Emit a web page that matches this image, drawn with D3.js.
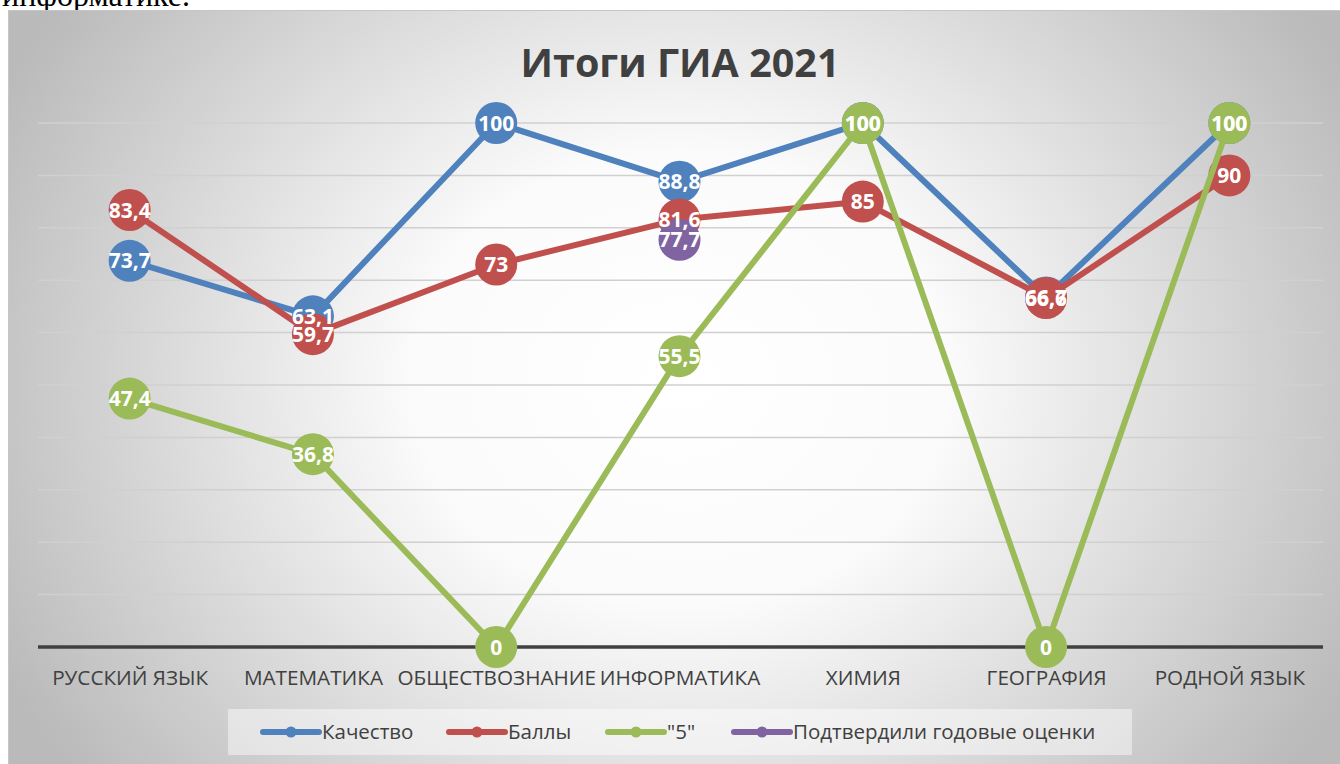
<!DOCTYPE html>
<html><head><meta charset="utf-8">
<script src="https://cdn.jsdelivr.net/npm/d3@7"></script>
<style>
html,body{margin:0;padding:0;background:#fff;}
svg{display:block;}
</style></head>
<body>
<svg id="c" width="1340" height="764"></svg>
<script>
const categories = ["РУССКИЙ ЯЗЫК","МАТЕМАТИКА","ОБЩЕСТВОЗНАНИЕ","ИНФОРМАТИКА","ХИМИЯ","ГЕОГРАФИЯ","РОДНОЙ ЯЗЫК"];
const kachestvo = [73.7, 63.1, 100, 88.8, 100, 66.7, 100];
const bally = [83.4, 59.7, 73, 81.6, 85, 66.6, 90];
const pyat = [47.4, 36.8, 0, 55.5, 100, 0, 100];
const podtverdili = [null, null, null, 77.7, null, null, null];
const seriesNames = ["Качество","Баллы","\"5\"","Подтвердили годовые оценки"];
const seriesColors = ["#4F81BD","#C0504D","#9BBB59","#8064A2"];
const yTicks = [0,10,20,30,40,50,60,70,80,90,100];
const title = "Итоги ГИА 2021";

const series = [kachestvo, bally, pyat, podtverdili].map((v,i)=>({name:seriesNames[i], color:seriesColors[i], values:v}));

const svg = d3.select("#c");
const defs = svg.append("defs");
const rg = defs.append("radialGradient").attr("id","bg")
  .attr("gradientUnits","userSpaceOnUse").attr("cx",680).attr("cy",380).attr("r",760)
  .attr("gradientTransform","translate(680,380) scale(1,0.85) translate(-680,-380)");
rg.append("stop").attr("offset","0%").attr("stop-color","#ffffff");
rg.append("stop").attr("offset","35%").attr("stop-color","#fbfbfb");
rg.append("stop").attr("offset","100%").attr("stop-color","#bababa");

// fragment of surrounding document text
svg.append("text").attr("x",2).attr("y",6).attr("font-family","Liberation Serif, serif")
  .attr("font-size",32).attr("fill","#000").text("информатике.");

svg.append("rect").attr("x",8.5).attr("y",10.5).attr("width",1340).attr("height",760)
  .attr("fill","url(#bg)").attr("stroke","#c6c6c6").attr("stroke-width",1);

const x = d3.scalePoint().domain(categories).range([38,1321]).padding(0.5);
const y = d3.scaleLinear().domain([0,100]).range([647,123]);

// gridlines
svg.append("g").selectAll("line").data(yTicks.filter(t=>t>0)).join("line")
  .attr("x1",38).attr("x2",1323).attr("y1",d=>y(d)).attr("y2",d=>y(d))
  .attr("stroke","#d0d0d0").attr("stroke-width",1.5);

// x axis
const xAxis = svg.append("g").attr("transform",`translate(0,${y(0)})`)
  .call(d3.axisBottom(x).tickSize(0).tickPadding(31));
xAxis.select(".domain").attr("d","M38,0H1323").attr("stroke","#404040").attr("stroke-width",3.5);
xAxis.selectAll("text").attr("font-family","Open Sans, sans-serif").attr("font-size",20.7)
  .attr("fill","#404040").attr("dy","0.36em");

// title
svg.append("text").attr("x",680).attr("y",77).attr("text-anchor","middle")
  .attr("font-family","Open Sans, sans-serif").attr("font-weight","bold")
  .attr("font-size",39.5).attr("fill","#404040").text(title);

const line = d3.line().defined(d=>d.v!=null).x(d=>x(d.c)).y(d=>y(d.v));
const R = 21;
series.forEach(s=>{
  const pts = s.values.map((v,i)=>({c:categories[i], v}));
  svg.append("path").datum(pts).attr("d",line).attr("fill","none")
    .attr("stroke",s.color).attr("stroke-width",6).attr("stroke-linejoin","round");
  svg.append("g").selectAll("circle").data(pts.filter(d=>d.v!=null)).join("circle")
    .attr("cx",d=>x(d.c)).attr("cy",d=>y(d.v)).attr("r",R).attr("fill",s.color);
});
const fmt = v => String(v).replace(".",",");
series.forEach(s=>{
  const pts = s.values.map((v,i)=>({c:categories[i], v})).filter(d=>d.v!=null);
  svg.append("g").selectAll("text").data(pts).join("text")
    .attr("x",d=>x(d.c)).attr("y",d=>y(d.v)).attr("dy","0.36em").attr("text-anchor","middle")
    .attr("font-family","Open Sans, sans-serif").attr("font-weight","bold").attr("font-size",21)
    .attr("fill","#fff").text(d=>fmt(d.v));
});

// legend
const lg = svg.append("g");
lg.append("rect").attr("x",228).attr("y",709).attr("width",904).attr("height",46)
  .attr("fill","#ffffff").attr("fill-opacity",0.45);
const legendX = [263, 449, 608, 734];
series.forEach((s,i)=>{
  const g = lg.append("g").attr("transform",`translate(${legendX[i]},732)`);
  g.append("line").attr("x1",0).attr("x2",56).attr("stroke",s.color).attr("stroke-width",6).attr("stroke-linecap","round");
  g.append("circle").attr("cx",28).attr("r",5.5).attr("fill",s.color);
  g.append("text").attr("x",59).attr("dy","0.36em").attr("font-family","Open Sans, sans-serif")
    .attr("font-size",20.5).attr("fill","#404040").text(s.name);
});
</script>
</body></html>
